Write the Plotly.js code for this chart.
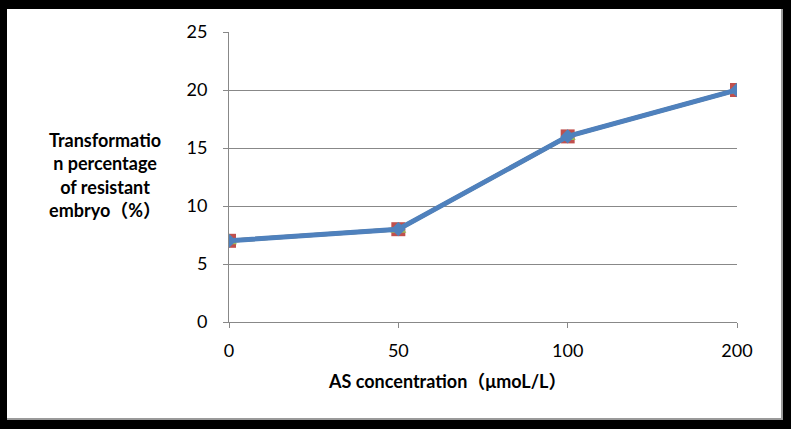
<!DOCTYPE html>
<html><head><meta charset="utf-8">
<script src="https://cdn.plot.ly/plotly-3.0.1.min.js"></script>
<style>
html,body{margin:0;padding:0;background:#000;width:791px;height:429px;overflow:hidden;}
#chart{position:absolute;left:7px;top:9px;width:776px;height:411px;background:#fff;box-sizing:border-box;border-right:2px solid #9a9a9a;border-bottom:2px solid #9a9a9a;}
</style></head>
<body><div id="chart"></div>
<script>
var categories = ["0", "50", "100", "200"];
var seriesA = [7, 8, 16, 20];
var seriesB = [7, 8, 16, 20];
var seriesC = [7, 8, 16, 20];
var yTickVals = [0, 5, 10, 15, 20, 25];
var xTitle = "AS concentration（μmoL/L）";
var yTitle = "Transformatio<br>n percentage<br>of resistant<br>embryo（%）";

var font = "Lato, 'Noto Sans', 'Noto Sans CJK SC', sans-serif";
var traces = [
  {x: categories, y: seriesA, type: 'scatter', mode: 'lines+markers', line: {color: '#C0504D', width: 4}, marker: {symbol: 'square', size: 14, color: '#C0504D'}, hoverinfo: 'skip'},
  {x: categories, y: seriesB, type: 'scatter', mode: 'lines+markers', line: {color: '#9BBB59', width: 4}, marker: {symbol: 'triangle-up', size: 14, color: '#9BBB59'}, hoverinfo: 'skip'},
  {x: categories, y: seriesC, type: 'scatter', mode: 'lines+markers', line: {color: '#4F81BD', width: 5}, marker: {symbol: 'diamond', size: 11, color: '#4F81BD'}, hoverinfo: 'skip'}
];
var layout = {
  width: 774, height: 409,
  margin: {l: 222, r: 44, t: 23, b: 96},
  paper_bgcolor: 'rgba(0,0,0,0)', plot_bgcolor: '#fff',
  showlegend: false,
  font: {family: font, size: 18, color: '#000'},
  xaxis: {
    type: 'category', range: [0, 3], categoryarray: categories,
    showgrid: false, zeroline: false,
    showline: true, linecolor: '#888', linewidth: 1,
    ticks: 'outside', ticklen: 5, tickcolor: '#888',
    ticklabelstandoff: 7,
    tickfont: {family: font, size: 18, color: '#000'}
  },
  yaxis: {
    range: [0, 25], tickvals: yTickVals,
    showgrid: true, gridcolor: '#888', gridwidth: 1,
    zeroline: false,
    showline: true, linecolor: '#888', linewidth: 1,
    ticks: 'outside', ticklen: 5, tickcolor: '#888',
    ticklabelstandoff: 12,
    tickfont: {family: font, size: 18, color: '#000'}
  },
  annotations: [{
    xref: 'paper', yref: 'paper', x: -0.245, y: 0.507,
    xanchor: 'center', yanchor: 'middle', showarrow: false,
    text: yTitle, align: 'center',
    font: {family: font, size: 18, color: '#000', weight: 'bold'}
  }, {
    xref: 'paper', yref: 'paper', x: 0.429, y: -0.203,
    xanchor: 'center', yanchor: 'middle', showarrow: false,
    text: xTitle,
    font: {family: font, size: 18, color: '#000', weight: 'bold'}
  }]
};
Plotly.newPlot('chart', traces, layout, {staticPlot: true, displayModeBar: false});
</script></body></html>
